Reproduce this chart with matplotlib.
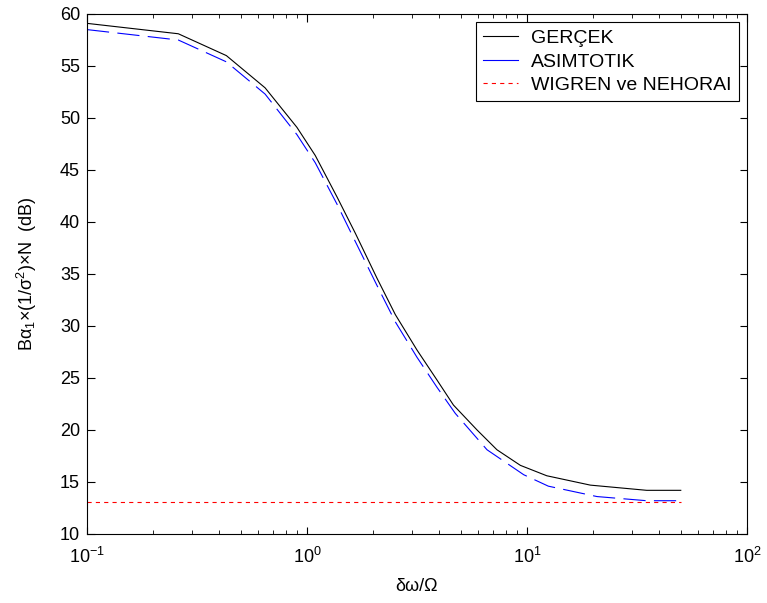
import matplotlib
matplotlib.use("Agg")
import matplotlib.pyplot as plt
from matplotlib.lines import Line2D

plt.rcParams['font.family'] = ['Liberation Sans', 'DejaVu Sans']
plt.rcParams['mathtext.fontset'] = 'custom'
plt.rcParams['mathtext.rm'] = 'Liberation Sans'
plt.rcParams['mathtext.it'] = 'Liberation Sans'
plt.rcParams['lines.scale_dashes'] = False

# Data
x_gercek = [0.1, 0.26, 0.43, 0.645, 0.9, 1.09, 1.37, 1.66, 2.08, 2.52, 3.16, 3.9,
            4.63, 5.93, 7.3, 9.33, 12.3, 19.4, 35, 50]
y_gercek = [59.1, 58.1, 56.0, 52.9, 49.1, 46.4, 42.4, 38.9, 34.6, 31.1, 27.7, 24.8,
            22.4, 20.0, 18.1, 16.6, 15.6, 14.7, 14.2, 14.2]

x_asim = [0.1, 0.26, 0.43, 0.645, 0.9, 1.09, 1.37, 1.66, 2.08, 2.52, 3.16, 3.9,
          4.72, 6.58, 9.66, 12.5, 20.8, 35, 50]
y_asim = [58.5, 57.5, 55.4, 52.3, 48.4, 45.7, 41.7, 38.1, 33.9, 30.4, 27.0, 24.1,
          21.6, 18.1, 15.7, 14.6, 13.6, 13.2, 13.2]

x_wigren = [0.1, 50]
y_wigren = [13.05, 13.05]

labels = ['GERÇEK', 'ASIMTOTIK', 'WIGREN ve NEHORAI']
yticks = [10, 15, 20, 25, 30, 35, 40, 45, 50, 55, 60]

fig = plt.figure(figsize=(7.67, 6.03), dpi=100)
ax = fig.add_axes([87/767, 1-534/603, (747-87)/767, (534-14)/603])

ax.plot(x_gercek, y_gercek, color='black', lw=0.8)
ax.plot(x_asim, y_asim, color='blue', lw=0.8, dashes=(16, 6))
ax.plot(x_wigren, y_wigren, color='red', lw=0.8, dashes=(3, 3))

ax.set_xscale('log')
ax.set_xlim(0.1, 100)
ax.set_ylim(10, 60)
ax.set_yticks(yticks)
ax.tick_params(which='both', direction='in', top=True, right=True, labelsize=13)
ax.tick_params(which='major', length=5.4)
ax.tick_params(which='minor', length=3)
ax.tick_params(axis='y', pad=5)
ax.tick_params(axis='x', pad=9)
for s in ax.spines.values():
    s.set_linewidth(0.8)

ax.set_xlabel('δω/Ω', fontsize=13, labelpad=8)
ax.set_ylabel('Bα$_1$×(1/σ$^2$)×N  (dB)', fontsize=13, labelpad=15)

handles = [Line2D([], [], color='black', lw=0.8),
           Line2D([], [], color='blue', lw=0.8),
           Line2D([], [], color='red', lw=0.8, dashes=(3, 3))]
leg = ax.legend(handles, labels, loc='upper right', fontsize=14, fancybox=False,
                edgecolor='black', framealpha=1, handlelength=1.8,
                handletextpad=0.67, borderaxespad=0.42, labelspacing=0.3,
                borderpad=0.38)
leg.get_frame().set_linewidth(0.8)

fig.savefig('out.png', dpi=100)
